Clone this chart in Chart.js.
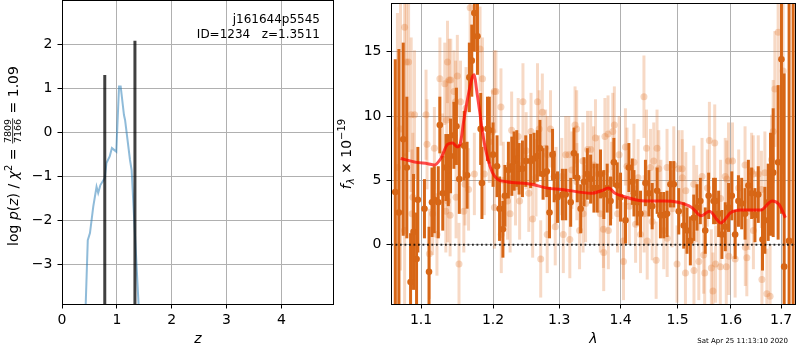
<!DOCTYPE html>
<html>
<head>
<meta charset="utf-8">
<script src="https://cdn.jsdelivr.net/npm/chart.js@4.4.0/dist/chart.umd.min.js"></script>
<style>
  body { margin: 0; background: #fff; }
  #wrap { position: relative; width: 800px; height: 350px; }
  #pz { position: absolute; left: 0; top: 0; width: 336px; height: 350px; }
  #sp { position: absolute; left: 336px; top: 0; width: 464px; height: 350px; }
</style>
</head>
<body>
<div id="wrap">
  <canvas id="pz" width="336" height="350"></canvas>
  <canvas id="sp" width="464" height="350"></canvas>
</div>
<script>
// ---- p(z) panel
var zGrid = [0.43, 0.47, 0.51, 0.57, 0.63, 0.66, 0.70, 0.78, 0.81, 0.87, 0.91, 0.99, 1.04, 1.07, 1.13, 1.15, 1.24, 1.27, 1.40];
var logPz = [-4.0, -2.45, -2.29, -1.69, -1.24, -1.38, -1.20, -1.04, -0.70, -0.55, -0.36, -0.44, 1.04, 1.04, 0.39, 0.28, -0.63, -0.86, -4.0];
var zMarks = [0.78, 1.33];
var zMarkTops = [1.30, 2.08];
var zTicks = [0, 1, 2, 3, 4];
var logPzTicks = [-3, -2, -1, 0, 1, 2];
var zRange = [0, 4.96];
var logPzRange = [-3.9, 2.98];

var fieldName = 'j161644p5545';
var objId = 1234;
var zBest = 1.3511;
var chi2Num = 7809, chi2Den = 7166, chi2Red = 1.09;
var stamp = 'Sat Apr 25 11:13:10 2020';

// ---- spectrum panel
var waveTicks = [1.1, 1.2, 1.3, 1.4, 1.5, 1.6, 1.7];
var fluxTicks = [0, 5, 10, 15];
var waveRange = [1.0607, 1.7309];
var fluxRange = [-4.6, 18.7];

var modelWave = [1.0731, 1.0939, 1.1089, 1.1178, 1.1266, 1.1357, 1.1425, 1.1494, 1.1531, 1.1587,
  1.1656, 1.1702, 1.1731, 1.1762, 1.1809, 1.1854, 1.1923, 1.1992, 1.2061, 1.2200,
  1.2573, 1.2810, 1.3044, 1.3518, 1.3681, 1.3796, 1.3908, 1.4019, 1.4421, 1.4770,
  1.5007, 1.5258, 1.5432, 1.5588, 1.5807, 1.5997, 1.6191, 1.6585, 1.6819, 1.6954, 1.7089];
var modelFlux = [6.7, 6.4, 6.3, 6.2, 6.7, 7.8, 7.9, 7.6, 7.8, 9.8,
  11.9, 13.0, 13.2, 12.1, 10.3, 8.5, 6.7, 5.6, 5.1, 4.9,
  4.7, 4.4, 4.3, 4.0, 4.2, 4.4, 4.0, 3.8, 3.4, 3.4,
  3.3, 2.9, 2.25, 2.6, 1.7, 2.5, 2.7, 2.7, 3.4, 3.15, 2.1];

var darkWave = [1.0598, 1.0662, 1.0709, 1.0765, 1.0812, 1.0861, 1.0900, 1.0940, 1.0957, 1.1045,
  1.1106, 1.1146, 1.1177, 1.1231, 1.1252, 1.1292, 1.1335, 1.1368, 1.1399, 1.1445,
  1.1480, 1.1520, 1.1588, 1.1629, 1.1661, 1.1695, 1.1731, 1.1776, 1.1822, 1.1840,
  1.1920, 1.1946, 1.2000, 1.2058, 1.2095, 1.2144, 1.2173, 1.2225, 1.2276, 1.2309,
  1.2349, 1.2384, 1.2434, 1.2484, 1.2558, 1.2610, 1.2660, 1.2700, 1.2748, 1.2805,
  1.2848, 1.2895, 1.2920, 1.2973, 1.3050, 1.3102, 1.3181, 1.3233, 1.3287, 1.3341,
  1.3395, 1.3449, 1.3503, 1.3557, 1.3611, 1.3665, 1.3720, 1.3776, 1.3832, 1.3888,
  1.3944, 1.4000, 1.4084, 1.4142, 1.4201, 1.4229, 1.4285, 1.4342, 1.4428, 1.4488,
  1.4546, 1.4634, 1.4692, 1.4751, 1.4810, 1.4870, 1.4931, 1.5021, 1.5112, 1.5172,
  1.5233, 1.5296, 1.5356, 1.5418, 1.5510, 1.5574, 1.5667, 1.5701, 1.5763, 1.5826,
  1.5890, 1.5953, 1.6016, 1.6081, 1.6145, 1.6209, 1.6275, 1.6340, 1.6405, 1.6471,
  1.6537, 1.6622, 1.6670, 1.6737, 1.6784, 1.6838, 1.6939, 1.7007, 1.7063, 1.7165,
  1.7249];
var darkFlux = [-6.0, 4.1, 2.5, 8.2, 6.0, -2.9, 1.0, -1.1, 3.5, 2.8,
  -2.1, 3.3, 3.5, 3.3, 9.3, 4.0, 6.0, 5.8, 6.9, 8.5,
  9.2, 5.1, 7.7, 5.4, 13.0, 14.3, 18.0, 16.2, 9.0, 4.8,
  9.0, 8.9, 7.0, 6.1, 2.8, 1.2, 3.8, 5.8, 6.1, 6.5,
  6.7, 5.9, 5.9, 6.5, 6.5, 6.7, 6.9, 7.5, 5.5, 5.7,
  2.5, 7.0, 5.3, 3.7, 3.9, 3.9, 3.3, 7.1, 5.2, 2.8,
  4.9, 5.5, 5.1, 4.4, 4.4, 5.5, 3.9, 4.4, 3.4, 6.4,
  4.6, 3.7, 1.9, 6.0, 4.9, 4.0, 3.3, 2.4, 4.8, 4.0,
  3.0, 4.2, 2.3, 2.3, 2.4, 4.7, 4.7, 2.6, 1.5, 1.1,
  0.3, 2.1, 2.9, 3.4, 1.1, 3.8, 3.4, 3.4, 2.4, 0.8,
  1.4, 2.9, 3.8, 0.8, 3.4, 3.2, 2.4, 4.6, 4.0, 2.3,
  3.9, 0.4, 1.9, 3.3, 4.7, 5.6, 6.4, 14.4, -1.7, 0.3,
  22.0];
var darkErr = [9.6, 10.3, 12.7, 7.5, 5.5, 3.8, 4.5, 3.6, 4.1, 2.3,
  3.5, 2.7, 2.6, 2.8, 2.2, 2.9, 2.6, 2.8, 2.9, 2.6,
  3.0, 2.7, 2.7, 2.6, 2.7, 2.8, 3.0, 3.0, 2.8, 2.8,
  2.5, 2.6, 2.5, 2.4, 2.5, 2.2, 2.4, 2.2, 2.3, 2.3,
  2.2, 2.0, 2.2, 2.0, 2.1, 2.0, 2.0, 2.2, 2.0, 2.0,
  2.0, 2.0, 2.0, 2.0, 2.0, 2.0, 1.9, 2.0, 1.9, 1.9,
  1.9, 2.0, 1.9, 1.9, 1.9, 1.9, 1.9, 1.9, 1.9, 1.9,
  1.8, 1.9, 1.8, 1.9, 1.8, 1.8, 1.8, 1.8, 1.8, 1.8,
  1.8, 1.8, 1.8, 1.8, 1.8, 1.8, 1.8, 1.8, 1.8, 1.8,
  1.9, 1.8, 1.8, 1.8, 1.8, 1.8, 1.8, 1.8, 1.8, 1.9,
  1.9, 1.9, 1.9, 1.9, 2.0, 2.0, 2.0, 2.0, 2.0, 2.1,
  2.2, 2.4, 2.6, 3.0, 4.0, 5.0, 6.0, 12.0, 15.0, 20.0,
  28.0];

var lightWave = [1.0690, 1.0730, 1.0783, 1.0783, 1.0804, 1.0835, 1.0869, 1.0880, 1.0891, 1.0913,
  1.1066, 1.1079, 1.1111, 1.1155, 1.1178, 1.1213, 1.1253, 1.1289, 1.1320, 1.1334,
  1.1347, 1.1357, 1.1360, 1.1380, 1.1393, 1.1402, 1.1447, 1.1469, 1.1475, 1.1493,
  1.1516, 1.1537, 1.1583, 1.1600, 1.1614, 1.1650, 1.1672, 1.1732, 1.1813, 1.1848,
  1.1874, 1.1946, 1.1993, 1.2017, 1.2020, 1.2042, 1.2115, 1.2120, 1.2150, 1.2212,
  1.2250, 1.2273, 1.2330, 1.2370, 1.2392, 1.2442, 1.2490, 1.2530, 1.2564, 1.2589,
  1.2640, 1.2663, 1.2688, 1.2712, 1.2737, 1.2787, 1.2812, 1.2815, 1.2863, 1.2937,
  1.2950, 1.3040, 1.3064, 1.3102, 1.3151, 1.3167, 1.3200, 1.3251, 1.3277, 1.3280,
  1.3323, 1.3377, 1.3380, 1.3420, 1.3453, 1.3505, 1.3550, 1.3582, 1.3634, 1.3662,
  1.3713, 1.3718, 1.3738, 1.3790, 1.3795, 1.3850, 1.3869, 1.3896, 1.3950, 1.3976,
  1.4046, 1.4050, 1.4083, 1.4110, 1.4150, 1.4229, 1.4257, 1.4300, 1.4342, 1.4402,
  1.4405, 1.4447, 1.4459, 1.4516, 1.4546, 1.4574, 1.4616, 1.4632, 1.4662, 1.4700,
  1.4751, 1.4810, 1.4812, 1.4900, 1.4931, 1.4990, 1.5021, 1.5082, 1.5085, 1.5143,
  1.5150, 1.5296, 1.5300, 1.5350, 1.5390, 1.5450, 1.5480, 1.5500, 1.5550, 1.5588,
  1.5625, 1.5655, 1.5689, 1.5705, 1.5795, 1.5800, 1.5890, 1.5910, 1.5920, 1.5953,
  1.5960, 1.6030, 1.6081, 1.6150, 1.6275, 1.6280, 1.6310, 1.6350, 1.6405, 1.6438,
  1.6440, 1.6537, 1.6600, 1.6610, 1.6670, 1.6710, 1.6775, 1.6804, 1.6838, 1.6872,
  1.6939, 1.7041];
var lightFlux = [6.0, 9.0, 16.9, 1.1, 14.2, 14.2, 10.1, 2.4, 3.7, 10.1,
  10.1, 7.8, -0.7, 2.4, 7.5, 0.8, 12.9, 7.0, 12.5, 2.6,
  9.7, 14.2, 3.4, 12.8, 2.3, 12.8, 11.9, 11.1, 3.7, 13.1,
  -1.5, 11.1, 2.6, 4.7, 10.6, 4.3, 18.4, 5.5, 15.2, 12.9,
  5.5, 8.0, 8.8, 11.9, 2.9, 11.9, 10.7, 0.8, 5.0, 3.4,
  2.4, 8.9, 4.5, 8.4, 3.4, 11.1, 7.3, 4.0, 8.8, 2.0,
  5.2, 11.1, 9.0, -1.1, 10.3, 7.5, 0.8, 7.0, 9.0, 1.4,
  4.6, 5.3, 0.8, 7.0, 7.0, 0.4, 5.8, 9.3, 9.0, 4.9,
  1.1, 6.5, 2.4, 3.2, 7.4, 7.4, 6.2, 8.3, 5.5, 2.4,
  1.2, -0.6, 8.4, 8.6, 1.1, 5.0, 8.8, 9.3, 2.4, 7.0,
  0.3, -1.3, 7.6, 6.1, 3.0, 6.4, 1.6, 5.2, 0.8, 11.5,
  2.4, 7.5, 0.3, 6.0, 1.8, 6.5, -1.2, 7.5, 5.9, 3.6,
  1.1, 6.0, 0.5, 2.8, 6.2, -1.5, 5.9, 5.9, 5.2, -2.2,
  4.2, 4.7, -2.0, 3.2, -1.3, 5.3, -0.8, -2.2, 4.4, 8.1,
  -1.8, -3.6, 7.9, -1.5, -1.7, 3.6, 5.3, -1.7, 5.1, 6.5,
  -0.9, 6.5, -1.1, 4.4, 6.2, -0.2, -1.0, 2.6, 5.7, 5.5,
  1.1, 5.5, 4.3, -2.7, 5.6, -3.8, -4.0, 6.6, 8.8, 12.1,
  16.5, 13.5];
var lightErr = [12, 11, 10, 6, 8, 7, 6, 5, 5, 5,
  3.5, 3.5, 3.5, 3.2, 3.2, 3.2, 3.2, 3.2, 3.2, 3.2,
  3.2, 3.2, 3.2, 3.2, 3.2, 3.2, 3.2, 3.2, 3.2, 3.2,
  3.2, 3.2, 3.2, 3.2, 3.2, 3.2, 3.5, 3.2, 3.3, 3.2,
  3.2, 3.2, 3.2, 3.2, 3.2, 3.2, 3.0, 3.0, 3.0, 3.0,
  3.0, 3.0, 3.0, 3.0, 3.0, 3.0, 3.0, 3.0, 3.0, 3.0,
  3.0, 3.0, 3.0, 3.0, 3.0, 3.0, 3.0, 3.0, 3.0, 3.0,
  3.0, 3.0, 3.0, 3.0, 3.0, 3.0, 3.0, 3.0, 3.0, 3.0,
  3.0, 3.0, 3.0, 3.0, 3.0, 3.0, 3.0, 3.0, 3.0, 3.0,
  3.0, 3.0, 3.0, 3.0, 3.0, 3.0, 3.0, 3.0, 3.0, 3.0,
  3.0, 3.0, 3.0, 3.0, 3.0, 3.0, 3.0, 3.0, 3.0, 3.2,
  3.0, 3.0, 3.0, 3.0, 3.0, 3.0, 3.0, 3.0, 3.0, 3.0,
  3.0, 3.0, 3.0, 3.0, 3.0, 3.0, 3.0, 3.0, 3.0, 3.0,
  3.0, 3.0, 3.0, 3.0, 3.0, 3.0, 3.0, 3.0, 3.0, 3.0,
  3.0, 3.0, 3.0, 3.0, 3.0, 3.0, 3.0, 3.0, 3.0, 3.0,
  3.0, 3.0, 3.0, 3.0, 3.0, 3.0, 3.0, 3.0, 3.0, 3.0,
  3.0, 3.0, 3.0, 3.0, 3.2, 3.5, 4.0, 3.5, 4.0, 4.5,
  6.0, 8.0];

var FONT = '"DejaVu Sans"';
Chart.defaults.font.family = FONT;
Chart.defaults.font.size = 14;
Chart.defaults.color = '#000';

function pts(xs, ys) {
  return xs.map(function (x, i) { return { x: x, y: ys[i] }; });
}

function minusFmt(v) {
  return v < 0 ? '\u2212' + Math.abs(v) : String(v);
}

function axis(type, range, ticks, size, fmt, pad) {
  return {
    type: type, min: range[0], max: range[1],
    afterBuildTicks: function (s) {
      s.ticks = ticks.map(function (v) { return { value: v }; });
    },
    afterFit: function (s) {
      if (s.isHorizontal()) s.height = size; else s.width = size;
      s.paddingTop = s.paddingBottom = s.paddingLeft = s.paddingRight = 0;
    },
    grid: { color: '#b0b0b0', lineWidth: 1, tickColor: '#000', tickLength: 4.5, drawTicks: true },
    border: { display: false },
    ticks: { color: '#000', font: { size: 14 }, padding: pad, autoSkip: false, maxRotation: 0, callback: fmt }
  };
}

// black frame round the plot area
var frame = {
  id: 'frame',
  afterDraw: function (chart) {
    var a = chart.chartArea, ctx = chart.ctx;
    ctx.save();
    ctx.strokeStyle = '#000';
    ctx.lineWidth = 1;
    ctx.strokeRect(Math.round(a.left) + 0.5, Math.round(a.top) - 0.5,
      Math.round(a.right - a.left) - 1, Math.round(a.bottom - a.top) + 1);
    ctx.restore();
  }
};

// vertical error bars, drawn just under each dataset's markers
var errorBars = {
  id: 'errorBars',
  beforeDatasetDraw: function (chart, args) {
    var ds = chart.data.datasets[args.index];
    if (!ds.errors) return;
    var xs = chart.scales.x, ys = chart.scales.y, a = chart.chartArea, ctx = chart.ctx;
    ctx.save();
    ctx.beginPath();
    ctx.rect(a.left, a.top, a.right - a.left, a.bottom - a.top);
    ctx.clip();
    ctx.strokeStyle = ds.errorColor;
    ctx.lineWidth = ds.errorWidth;
    ds.data.forEach(function (p, i) {
      var x = xs.getPixelForValue(p.x);
      ctx.beginPath();
      ctx.moveTo(x, ys.getPixelForValue(p.y - ds.errors[i]));
      ctx.lineTo(x, ys.getPixelForValue(p.y + ds.errors[i]));
      ctx.stroke();
    });
    ctx.restore();
  }
};

// rotated label made of pieces (sub/superscripts, a fraction)
function drawRotated(ctx, cx, cy, parts) {
  ctx.save();
  ctx.translate(cx, cy);
  ctx.rotate(-Math.PI / 2);
  ctx.fillStyle = '#000';
  ctx.textBaseline = 'alphabetic';
  var widths = parts.map(function (p) {
    ctx.font = p.font;
    if (p.num) return Math.max(ctx.measureText(p.num).width, ctx.measureText(p.den).width) + 2;
    return ctx.measureText(p.t).width;
  });
  var total = widths.reduce(function (a, b) { return a + b; }, 0);
  var x = -total / 2;
  parts.forEach(function (p, i) {
    ctx.font = p.font;
    if (p.num) {
      var w = widths[i];
      ctx.textAlign = 'center';
      ctx.fillText(p.num, x + w / 2, -6.2);
      ctx.fillText(p.den, x + w / 2, 3.4);
      ctx.fillRect(x + 0.5, -5.2, w - 1, 0.8);
      ctx.textAlign = 'left';
    } else {
      ctx.textAlign = 'left';
      ctx.fillText(p.t, x, p.dy || 0);
    }
    x += widths[i];
  });
  ctx.restore();
}

var pzText = {
  id: 'pzText',
  afterDraw: function (chart) {
    var ctx = chart.ctx, a = chart.chartArea;
    ctx.save();
    ctx.fillStyle = '#000';
    ctx.font = '12px ' + FONT;
    ctx.textAlign = 'right';
    ctx.textBaseline = 'middle';
    ctx.fillText(fieldName, 320, 20);
    ctx.fillText('ID=' + objId + '   z=' + zBest.toFixed(4), 320, 34.5);
    ctx.font = 'italic 14px ' + FONT;
    ctx.textAlign = 'center';
    ctx.fillText('z', (a.left + a.right) / 2, 339);
    ctx.restore();
    var r = '14px ' + FONT, it = 'italic 14px ' + FONT;
    drawRotated(ctx, 17.5, 156, [
      { t: 'log ', font: r }, { t: 'p', font: it }, { t: '(', font: r }, { t: 'z', font: it }, { t: ')', font: r },
      { t: ' / ', font: r }, { t: '\u03c7', font: it }, { t: '2', font: '10px ' + FONT, dy: -6 },
      { t: ' = ', font: r }, { num: String(chi2Num), den: String(chi2Den), font: '9.5px ' + FONT },
      { t: ' = ' + chi2Red.toFixed(2), font: r }
    ]);
  }
};

var spText = {
  id: 'spText',
  afterDraw: function (chart) {
    var ctx = chart.ctx, a = chart.chartArea;
    ctx.save();
    ctx.fillStyle = '#000';
    ctx.font = 'italic 14px ' + FONT;
    ctx.textAlign = 'center';
    ctx.textBaseline = 'middle';
    ctx.fillText('\u03bb', (a.left + a.right) / 2, 339);
    ctx.font = '7px ' + FONT;
    ctx.textAlign = 'right';
    ctx.fillText(stamp, 452, 341);
    ctx.restore();
    drawRotated(ctx, 15, 154, [
      { t: 'f', font: 'italic 14px ' + FONT }, { t: '\u03bb', font: 'italic 10px ' + FONT, dy: 3 },
      { t: ' \u00d7 10', font: '14px ' + FONT }, { t: '\u221219', font: '10px ' + FONT, dy: -6 }
    ]);
  }
};

function zMarkLine(i) {
  return {
    data: [{ x: zMarks[i], y: logPzRange[0] - 1 }, { x: zMarks[i], y: zMarkTops[i] }],
    showLine: true, borderColor: 'rgba(0,0,0,0.75)', borderWidth: 3, pointRadius: 0, clip: 0
  };
}

new Chart(document.getElementById('pz'), {
  type: 'scatter',
  data: {
    datasets: [
      zMarkLine(0),
      zMarkLine(1),
      { data: pts(zGrid, logPz), showLine: true, borderColor: 'rgba(31,119,180,0.5)', borderWidth: 2,
        pointRadius: 0, tension: 0, clip: 0 }
    ]
  },
  options: {
    responsive: false, animation: false, events: [],
    layout: { padding: { top: 1, right: 2, left: 0, bottom: 0 } },
    plugins: { legend: { display: false }, tooltip: { enabled: false } },
    scales: {
      x: axis('linear', zRange, zTicks, 46, function (v) { return String(v); }, 3),
      y: axis('linear', logPzRange, logPzTicks, 62, minusFmt, 5)
    }
  },
  plugins: [frame, pzText]
});

new Chart(document.getElementById('sp'), {
  type: 'scatter',
  data: {
    datasets: [
      { data: pts(modelWave, modelFlux), showLine: true, borderColor: 'rgba(255,0,0,0.7)', borderWidth: 3,
        pointRadius: 0, cubicInterpolationMode: 'monotone', clip: 0 },
      { data: [{ x: waveRange[0], y: 0 }, { x: waveRange[1], y: 0 }], showLine: true,
        borderColor: 'rgba(0,0,0,0.8)', borderWidth: 1.8, borderDash: [1.8, 2.7], pointRadius: 0 },
      { data: pts(darkWave, darkFlux), errors: darkErr, errorColor: 'rgb(215,102,22)', errorWidth: 3,
        pointRadius: 3.3, pointBackgroundColor: 'rgb(215,102,22)', pointBorderWidth: 0, clip: 0 },
      { data: pts(lightWave, lightFlux), errors: lightErr, errorColor: 'rgba(225,120,45,0.28)', errorWidth: 3,
        pointRadius: 3.5, pointBackgroundColor: 'rgba(225,120,45,0.3)', pointBorderWidth: 0, clip: 0 }
    ]
  },
  options: {
    responsive: false, animation: false, events: [],
    layout: { padding: { top: 1, right: 1, left: 0, bottom: 0 } },
    plugins: { legend: { display: false }, tooltip: { enabled: false } },
    scales: {
      x: axis('logarithmic', waveRange, waveTicks, 46, function (v) { return Number(v).toFixed(1); }, 3),
      y: axis('linear', fluxRange, fluxTicks, 55, minusFmt, 5)
    }
  },
  plugins: [errorBars, frame, spText]
});
</script>
</body>
</html>
